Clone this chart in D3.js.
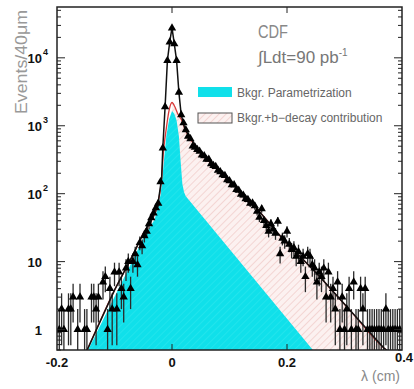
<!DOCTYPE html>
<html>
<head>
<meta charset="utf-8">
<script src="https://cdn.jsdelivr.net/npm/d3@7"></script>
<style>
  body { margin: 0; background: #fff; }
  svg { display: block; font-family: "Liberation Sans", Arial, sans-serif; }
</style>
</head>
<body>
<svg id="chart" width="414" height="389"></svg>
<script>
// histogram: 40 um bins, first bin centre at -0.196 cm
const binStart = -0.196;
const binWidth = 0.004;
const counts = [
  1, 2, 1, 0, 2,   2, 3, 0, 1, 3,   0, 1, 1, 0, 3,   3, 2, 3, 0, 5,
  6, 1, 4, 2, 7,   2, 7, 4, 3, 8,   10, 4, 10, 13, 9,   19, 17, 24, 28, 36,
  44, 52, 62, 72, 150,   470, 1900, 9100, 17000, 27500,   16000, 9100, 3100, 1450, 1100,
  870, 700, 640, 500, 480,   445, 420, 370, 360, 320,   320, 275, 260, 250, 220,
  210, 190, 185, 160, 155,   135, 135, 115, 112, 98,   95, 84, 82, 72, 73,
  66, 55, 45, 60, 40,   34, 28, 36, 30, 26,   39, 13, 22, 20, 28,
  18, 15, 16, 12, 14,   10, 12, 6, 13, 12,   9, 8, 5, 7, 6,
  8, 3, 7, 3, 4,   2, 5, 1, 3, 1,   2, 4, 1, 5, 1,   1, 4, 2, 4, 1,
  1, 1, 1, 1, 1,   1, 1, 2, 1, 1,   1, 1, 1, 1
];

// background parametrization (cyan)
const bkgX = [-0.146, -0.067, -0.050, -0.030, -0.020, -0.015, -0.010, -0.005, 0.000, 0.004, 0.008, 0.012, 0.015, 0.018, 0.021, 0.024, 0.245];
const bkgY = [0.5, 11, 22, 42, 95, 250, 700, 1250, 1650, 1500, 1200, 700, 300, 140, 105, 92, 0.5];

// background + b-decay contribution (red outline, hatched)
const sumX = [-0.150, -0.100, -0.067, -0.050, -0.038, -0.024, -0.018, -0.015, -0.010, -0.005, 0.000, 0.005, 0.010, 0.017, 0.023, 0.046, 0.092, 0.139, 0.188, 0.257, 0.310, 0.368, 0.380];
const sumY = [0.45, 3.8, 13, 26, 38, 75, 170, 400, 900, 1700, 2200, 1900, 1500, 1200, 870, 445, 178, 73, 24, 6, 1.9, 0.54, 0.45];

// full fit (black)
const fitX = [-0.150, -0.100, -0.067, -0.050, -0.038, -0.024, -0.018, -0.016, -0.012, -0.008, -0.004, 0.000, 0.004, 0.008, 0.012, 0.016, 0.023, 0.046, 0.092, 0.139, 0.188, 0.257, 0.310, 0.368, 0.380];
const fitY = [0.45, 3.8, 13, 26, 38, 75, 170, 470, 1900, 9100, 17000, 27500, 16000, 9100, 3100, 1450, 870, 445, 178, 73, 24, 6, 1.9, 0.54, 0.45];

const xTicks = [-0.2, 0, 0.2, 0.4];
const xTickLabels = ['-0.2', '0', '0.2', '0.4'];
const yMajor = [1, 10, 100, 1000, 10000];

const margin = { top: 7, right: 12, bottom: 39, left: 57 };
const width = 414, height = 389;

const svg = d3.select('#chart');

const x = d3.scaleLinear().domain([-0.2, 0.4]).range([margin.left, width - margin.right]);
const y = d3.scaleLog().domain([0.5, 56000]).range([height - margin.bottom, margin.top]);

const defs = svg.append('defs');
defs.append('clipPath').attr('id', 'plot-clip')
  .append('rect')
  .attr('x', x.range()[0]).attr('y', y.range()[1])
  .attr('width', x.range()[1] - x.range()[0])
  .attr('height', y.range()[0] - y.range()[1]);

const hatch = defs.append('pattern')
  .attr('id', 'hatch')
  .attr('patternUnits', 'userSpaceOnUse')
  .attr('width', 5).attr('height', 5)
  .attr('patternTransform', 'rotate(45)');
hatch.append('rect').attr('width', 5).attr('height', 5).attr('fill', '#fcf1f0');
hatch.append('line').attr('x1', 0).attr('y1', 0).attr('x2', 0).attr('y2', 5)
  .attr('stroke', '#eab9b6').attr('stroke-width', 1);

const cyanPat = defs.append('pattern')
  .attr('id', 'cyanpat')
  .attr('patternUnits', 'userSpaceOnUse')
  .attr('width', 5).attr('height', 5)
  .attr('patternTransform', 'rotate(45)');
cyanPat.append('rect').attr('width', 5).attr('height', 5).attr('fill', '#10e0ea');
cyanPat.append('line').attr('x1', 0).attr('y1', 0).attr('x2', 0).attr('y2', 5)
  .attr('stroke', '#34e8ef').attr('stroke-width', 1);

const plot = svg.append('g').attr('clip-path', 'url(#plot-clip)');
const yBottom = y.range()[0];

// hatched bkgr + b-decay area (positive lifetimes only)
const sumPts = sumX.map((d, i) => [d, sumY[i]]);
const sumPos = sumPts.filter(d => d[0] >= 0);
plot.append('path')
  .datum(sumPos)
  .attr('fill', 'url(#hatch)')
  .attr('d', d3.area().x(d => x(d[0])).y0(yBottom).y1(d => y(d[1])).curve(d3.curveMonotoneX));

// cyan background
const bkgPts = bkgX.map((d, i) => [d, bkgY[i]]);
plot.append('path')
  .datum(bkgPts)
  .attr('fill', 'url(#cyanpat)')
  .attr('d', d3.area().x(d => x(d[0])).y0(yBottom).y1(d => y(d[1])));

// red curve
plot.append('path')
  .datum(sumPts)
  .attr('fill', 'none')
  .attr('stroke', '#d83a3a')
  .attr('stroke-width', 1.3)
  .attr('d', d3.line().x(d => x(d[0])).y(d => y(d[1])).curve(d3.curveMonotoneX));

// data points
const data = counts.map((c, i) => ({ lam: binStart + i * binWidth, n: c })).filter(d => d.n > 0);

const bars = plot.append('g').attr('stroke', '#2a2a2a').attr('stroke-width', 1.3);
bars.selectAll('.ey')
  .data(data)
  .join('line')
  .attr('class', 'ey')
  .attr('x1', d => x(d.lam)).attr('x2', d => x(d.lam))
  .attr('y1', d => { const lo = d.n - Math.sqrt(d.n); return lo > 0.5 ? y(lo) : yBottom; })
  .attr('y2', d => y(d.n + Math.sqrt(d.n)));
bars.selectAll('.ex')
  .data(data)
  .join('line')
  .attr('class', 'ex')
  .attr('x1', d => x(d.lam - binWidth / 2)).attr('x2', d => x(d.lam + binWidth / 2))
  .attr('y1', d => y(d.n)).attr('y2', d => y(d.n));

// full fit
const fitPts = fitX.map((d, i) => [d, fitY[i]]);
plot.append('path')
  .datum(fitPts)
  .attr('fill', 'none')
  .attr('stroke', '#111')
  .attr('stroke-width', 1.5)
  .attr('d', d3.line().x(d => x(d[0])).y(d => y(d[1])));

plot.selectAll('.tri')
  .data(data)
  .join('path')
  .attr('class', 'tri')
  .attr('transform', d => `translate(${x(d.lam)},${y(d.n)})`)
  .attr('d', d3.symbol().type(d3.symbolTriangle).size(30))
  .attr('fill', '#000');

// frame
svg.append('rect')
  .attr('x', x.range()[0]).attr('y', y.range()[1])
  .attr('width', x.range()[1] - x.range()[0])
  .attr('height', y.range()[0] - y.range()[1])
  .attr('fill', 'none').attr('stroke', '#222').attr('stroke-width', 1.5);

// ticks on all sides, pointing inside
const minor = y.ticks().filter(v => !yMajor.includes(v));
const axL = svg.append('g').attr('stroke', '#222').attr('stroke-width', 1);
const axR = svg.append('g').attr('stroke', '#222').attr('stroke-width', 1);
[[yMajor, 8], [minor, 4]].forEach(([vals, len]) => {
  axL.selectAll(null).data(vals).join('line')
    .attr('x1', x.range()[0]).attr('x2', x.range()[0] + len)
    .attr('y1', d => y(d)).attr('y2', d => y(d));
  axR.selectAll(null).data(vals).join('line')
    .attr('x1', x.range()[1]).attr('x2', x.range()[1] - len)
    .attr('y1', d => y(d)).attr('y2', d => y(d));
});
const axTB = svg.append('g').attr('stroke', '#222').attr('stroke-width', 1);
axTB.selectAll(null).data([0, 0.2]).join('line')
  .attr('x1', d => x(d)).attr('x2', d => x(d))
  .attr('y1', y.range()[1]).attr('y2', y.range()[1] + 6);
axTB.selectAll(null).data([0, 0.2]).join('line')
  .attr('x1', d => x(d)).attr('x2', d => x(d))
  .attr('y1', yBottom).attr('y2', yBottom - 6);

// y tick labels
const yl = svg.append('g').attr('font-size', 13).attr('font-weight', 'bold').attr('fill', '#111');
yMajor.forEach(v => {
  const p = Math.round(Math.log10(v));
  const t = yl.append('text').attr('x', 42).attr('y', y(v) + 5).attr('text-anchor', 'end');
  if (p >= 2) {
    t.text('10');
    yl.append('text').attr('x', 43).attr('y', y(v) - 3).attr('font-size', 9).text(p);
  } else {
    t.text(v);
  }
});

// x tick labels (the last one sits a little higher, clear of the axis title)
svg.append('g').attr('font-size', 13).attr('font-weight', 'bold').attr('fill', '#111')
  .selectAll('text').data(xTicks).join('text')
  .attr('x', (d, i) => i === xTicks.length - 1 ? x(d) + 2 : x(d))
  .attr('y', (d, i) => i === xTicks.length - 1 ? 362 : 367)
  .attr('text-anchor', 'middle')
  .text((d, i) => xTickLabels[i]);

// axis titles
svg.append('text')
  .attr('transform', 'translate(27,62) rotate(-90)')
  .attr('text-anchor', 'middle')
  .attr('font-size', 16).attr('fill', '#999')
  .attr('textLength', 104).attr('lengthAdjust', 'spacingAndGlyphs')
  .text('Events/40\u03bcm');
svg.append('text')
  .attr('x', 400).attr('y', 381).attr('text-anchor', 'end')
  .attr('font-size', 14).attr('fill', '#888')
  .text('\u03bb (cm)');

// CDF labels
svg.append('text').attr('x', 258).attr('y', 38)
  .attr('font-size', 18).attr('fill', '#888')
  .attr('textLength', 30).attr('lengthAdjust', 'spacingAndGlyphs')
  .text('CDF');
const lum = svg.append('text').attr('x', 258).attr('y', 63)
  .attr('font-size', 17).attr('fill', '#777');
lum.append('tspan').text('\u222bLdt=90 pb');
lum.append('tspan').attr('dy', -7).attr('font-size', 10).text('-1');

// legend
svg.append('rect').attr('x', 198).attr('y', 87).attr('width', 34).attr('height', 10).attr('fill', '#10e0ea');
svg.append('rect').attr('x', 198).attr('y', 113).attr('width', 34).attr('height', 10)
  .attr('fill', 'url(#hatch)').attr('stroke', '#555').attr('stroke-width', 1);
svg.append('text').attr('x', 237).attr('y', 97).attr('font-size', 12).attr('fill', '#666')
  .text('Bkgr. Parametrization');
svg.append('text').attr('x', 237).attr('y', 122).attr('font-size', 12).attr('fill', '#666')
  .text('Bkgr.+b\u2212decay contribution');
</script>
</body>
</html>
